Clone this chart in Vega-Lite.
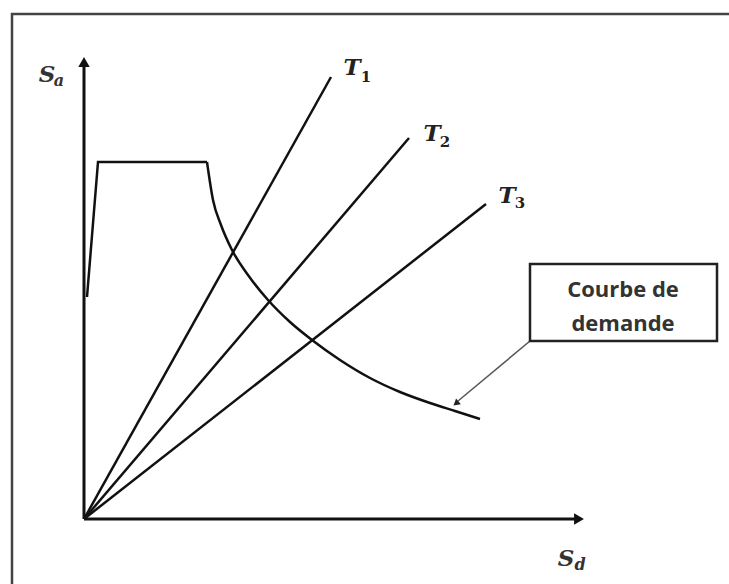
{
  "$schema": "https://vega.github.io/schema/vega-lite/v6.json",
  "width": 729,
  "height": 584,
  "autosize": {"type": "fit", "contains": "padding"},
  "padding": 0,
  "background": "white",
  "config": {"view": {"stroke": null}},
  "encoding": {
    "x": {"field": "x", "type": "quantitative", "axis": null, "scale": {"domain": [-0.84, 6.45], "nice": false, "zero": false}},
    "y": {"field": "y", "type": "quantitative", "axis": null, "scale": {"domain": [-0.65, 5.19], "nice": false, "zero": false}}
  },
  "layer": [
    {
      "data": {"values": [{"x": -0.72, "x2": 7, "y": -1, "y2": 5.05}]},
      "mark": {"type": "rect", "filled": false, "stroke": "#444", "strokeWidth": 2.5, "clip": true},
      "encoding": {"x2": {"field": "x2"}, "y2": {"field": "y2"}}
    },
    {
      "data": {"values": [
        {"id": "ay", "o": 0, "x": 0, "y": 0}, {"id": "ay", "o": 1, "x": 0, "y": 4.55},
        {"id": "ax", "o": 0, "x": 0, "y": 0}, {"id": "ax", "o": 1, "x": 4.93, "y": 0}
      ]},
      "mark": {"type": "line", "color": "#111", "strokeWidth": 3},
      "encoding": {"detail": {"field": "id"}, "order": {"field": "o"}}
    },
    {
      "data": {"values": [{"x": 0, "y": 4.57}]},
      "mark": {"type": "point", "shape": "triangle-up", "filled": true, "color": "#111", "size": 130, "opacity": 1}
    },
    {
      "data": {"values": [{"x": 4.95, "y": 0}]},
      "mark": {"type": "point", "shape": "triangle-right", "filled": true, "color": "#111", "size": 130, "opacity": 1}
    },
    {
      "data": {"values": [
        {"id": "T1", "o": 0, "x": 0, "y": 0}, {"id": "T1", "o": 1, "x": 2.47, "y": 4.42},
        {"id": "T2", "o": 0, "x": 0, "y": 0}, {"id": "T2", "o": 1, "x": 3.25, "y": 3.81},
        {"id": "T3", "o": 0, "x": 0, "y": 0}, {"id": "T3", "o": 1, "x": 4.02, "y": 3.15}
      ]},
      "mark": {"type": "line", "color": "#111", "strokeWidth": 2.5},
      "encoding": {"detail": {"field": "id"}, "order": {"field": "o"}}
    },
    {
      "data": {"values": [
        {"o": 0, "x": 0.03, "y": 2.22},
        {"o": 1, "x": 0.14, "y": 3.57},
        {"o": 2, "x": 1.23, "y": 3.57}
      ]},
      "mark": {"type": "line", "color": "#111", "strokeWidth": 2.5, "strokeJoin": "miter"},
      "encoding": {"order": {"field": "o"}}
    },
    {
      "data": {"values": [
        {"o": 2, "x": 1.23, "y": 3.57},
        {"o": 4, "x": 1.29, "y": 3.19},
        {"o": 5, "x": 1.37, "y": 2.94},
        {"o": 6, "x": 1.48, "y": 2.69},
        {"o": 7, "x": 1.64, "y": 2.44},
        {"o": 8, "x": 1.84, "y": 2.19},
        {"o": 9, "x": 2.06, "y": 1.97},
        {"o": 10, "x": 2.28, "y": 1.79},
        {"o": 11, "x": 2.56, "y": 1.59},
        {"o": 12, "x": 2.86, "y": 1.41},
        {"o": 13, "x": 3.16, "y": 1.27},
        {"o": 14, "x": 3.46, "y": 1.16},
        {"o": 15, "x": 3.71, "y": 1.08},
        {"o": 16, "x": 3.96, "y": 1.00}
      ]},
      "mark": {"type": "line", "color": "#111", "strokeWidth": 2.5, "interpolate": "monotone"},
      "encoding": {"order": {"field": "o"}}
    },
    {
      "data": {"values": [{"o": 0, "x": 4.46, "y": 1.78}, {"o": 1, "x": 3.74, "y": 1.18}]},
      "mark": {"type": "line", "color": "#555", "strokeWidth": 1.5},
      "encoding": {"order": {"field": "o"}}
    },
    {
      "data": {"values": [{"x": 3.72, "y": 1.155}]},
      "mark": {"type": "point", "shape": "triangle-up", "filled": true, "color": "#222", "size": 55, "opacity": 1, "angle": 230}
    },
    {
      "data": {"values": [{"x": 4.46, "x2": 6.33, "y": 2.55, "y2": 1.78}]},
      "mark": {"type": "rect", "fill": "white", "stroke": "#222", "strokeWidth": 2.5},
      "encoding": {"x2": {"field": "x2"}, "y2": {"field": "y2"}}
    },
    {
      "data": {"values": [{"x": 5.39, "y": 2.22, "t": "Courbe de"}, {"x": 5.39, "y": 1.885, "t": "demande"}]},
      "mark": {"type": "text", "font": "Open Sans", "fontWeight": "bold", "fontSize": 22, "color": "#333", "align": "center", "baseline": "alphabetic"},
      "encoding": {"text": {"field": "t"}}
    },
    {
      "data": {"values": [
        {"x": 2.68, "y": 4.44, "t": "T"},
        {"x": 3.48, "y": 3.78, "t": "T"},
        {"x": 4.23, "y": 3.16, "t": "T"}
      ]},
      "mark": {"type": "text", "font": "DejaVu Serif", "fontStyle": "italic", "fontWeight": "bold", "fontSize": 23, "color": "#222", "align": "center", "baseline": "alphabetic"},
      "encoding": {"text": {"field": "t"}}
    },
    {
      "data": {"values": [
        {"x": -0.37, "y": 4.37, "t": "S"},
        {"x": 4.82, "y": -0.47, "t": "S"}
      ]},
      "mark": {"type": "text", "font": "DejaVu Serif", "fontStyle": "italic", "fontWeight": "bold", "fontSize": 23, "color": "#333", "align": "center", "baseline": "alphabetic"},
      "encoding": {"text": {"field": "t"}}
    },
    {
      "data": {"values": [
        {"x": 2.82, "y": 4.37, "t": "1"},
        {"x": 3.61, "y": 3.72, "t": "2"},
        {"x": 4.36, "y": 3.11, "t": "3"}
      ]},
      "mark": {"type": "text", "font": "DejaVu Serif", "fontWeight": "bold", "fontSize": 15, "color": "#222", "align": "center", "baseline": "alphabetic"},
      "encoding": {"text": {"field": "t"}}
    },
    {
      "data": {"values": [
        {"x": -0.25, "y": 4.33, "t": "a"},
        {"x": 4.96, "y": -0.51, "t": "d"}
      ]},
      "mark": {"type": "text", "font": "DejaVu Serif", "fontStyle": "italic", "fontWeight": "bold", "fontSize": 16, "color": "#333", "align": "center", "baseline": "alphabetic"},
      "encoding": {"text": {"field": "t"}}
    }
  ]
}
